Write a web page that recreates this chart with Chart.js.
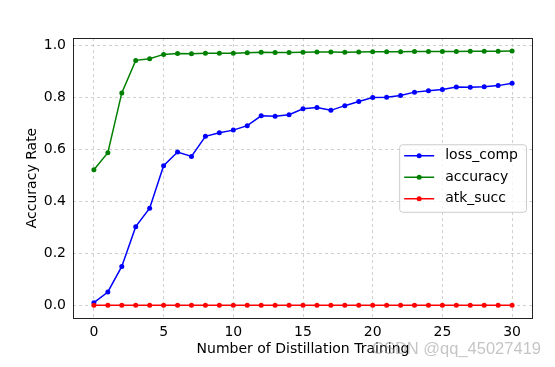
<!DOCTYPE html>
<html>
<head>
<meta charset="utf-8">
<script src="https://cdn.jsdelivr.net/npm/chart.js@4/dist/chart.umd.min.js"></script>
<style>
  html, body { margin: 0; padding: 0; background: #fff; }
  #wrap { width: 555px; height: 367px; }
</style>
</head>
<body>
<div id="wrap"><canvas id="c" width="555" height="367"></canvas></div>
<script>
// data
var epochs = [];
for (var i = 0; i <= 30; i++) epochs.push(i);

var lossComp = [0.010, 0.051, 0.149, 0.302, 0.373, 0.536, 0.589, 0.572, 0.649, 0.663,
                0.673, 0.690, 0.728, 0.726, 0.732, 0.755, 0.760, 0.749, 0.767, 0.783,
                0.798, 0.799, 0.806, 0.819, 0.824, 0.829, 0.839, 0.838, 0.840, 0.844, 0.853];
var accuracy = [0.521, 0.586, 0.816, 0.941, 0.947, 0.964, 0.967, 0.966, 0.968, 0.968,
                0.968, 0.970, 0.972, 0.971, 0.971, 0.972, 0.973, 0.973, 0.972, 0.973,
                0.974, 0.974, 0.974, 0.975, 0.975, 0.975, 0.975, 0.976, 0.976, 0.976, 0.977];
var atkSucc = [];
for (var j = 0; j <= 30; j++) atkSucc.push(0);

var xTicks = [0, 5, 10, 15, 20, 25, 30];
var yTicks = [0, 0.2, 0.4, 0.6, 0.8, 1.0];

var FONT = 'DejaVu Sans';

function pts(ys) {
    return ys.map(function (y, k) { return { x: epochs[k], y: y }; });
}
function series(label, ys, color, order) {
    return {
        label: label,
        data: pts(ys),
        borderColor: color,
        backgroundColor: color,
        borderWidth: 1.5,
        pointRadius: 2.5,
        pointHoverRadius: 2.5,
        pointBorderWidth: 0,
        tension: 0,
        order: order
    };
}

// frame round the plot area + legend + watermark
var extras = {
    id: 'extras',
    afterDraw: function (chart) {
        var ctx = chart.ctx, a = chart.chartArea;
        ctx.save();
        ctx.strokeStyle = '#222';
        ctx.lineWidth = 1;
        ctx.strokeRect(Math.round(a.left) + 0.5, Math.round(a.top) + 0.5,
                       Math.round(a.right - a.left) - 1, Math.round(a.bottom - a.top));

        // legend, center right
        var sets = chart.data.datasets;
        ctx.font = '14px "' + FONT + '"';
        var maxW = 0;
        sets.forEach(function (d) { maxW = Math.max(maxW, ctx.measureText(d.label).width); });
        var rowH = 21.5;
        var bw = 46 + maxW + 8, bh = rowH * sets.length + 3;
        var bx = a.right - 7 - bw, by = (a.top + a.bottom) / 2 - bh / 2;
        ctx.fillStyle = 'rgba(255,255,255,0.8)';
        ctx.strokeStyle = '#cccccc';
        ctx.beginPath();
        ctx.roundRect(bx + 0.5, by + 0.5, bw, bh, 3);
        ctx.fill();
        ctx.stroke();
        ctx.textBaseline = 'middle';
        sets.forEach(function (d, k) {
            var cy = by + 11.5 + k * rowH;
            ctx.strokeStyle = d.borderColor;
            ctx.lineWidth = 1.5;
            ctx.beginPath();
            ctx.moveTo(bx + 5, cy);
            ctx.lineTo(bx + 35, cy);
            ctx.stroke();
            ctx.fillStyle = d.borderColor;
            ctx.beginPath();
            ctx.arc(bx + 20, cy, 2.5, 0, Math.PI * 2);
            ctx.fill();
            ctx.fillStyle = '#000';
            ctx.fillText(d.label, bx + 46, cy);
        });

        // watermark
        ctx.font = '16.5px "Liberation Sans"';
        ctx.fillStyle = 'rgba(150,150,150,0.55)';
        ctx.textAlign = 'right';
        ctx.textBaseline = 'alphabetic';
        ctx.fillText('CSDN @qq_45027419', 541, 354);
        ctx.restore();
    }
};

var tickFont = { family: FONT, size: 14 };

new Chart(document.getElementById('c'), {
    type: 'line',
    data: {
        datasets: [
            series('loss_comp', lossComp, '#0000ff', 2),
            series('accuracy', accuracy, '#008000', 1),
            series('atk_succ', atkSucc, '#ff0000', 0)
        ]
    },
    options: {
        responsive: false,
        animation: false,
        layout: { padding: { left: 0, right: 22, top: 38, bottom: 0 } },
        plugins: { legend: { display: false }, tooltip: { enabled: false } },
        scales: {
            x: {
                type: 'linear',
                min: -1.5,
                max: 31.5,
                afterBuildTicks: function (s) { s.ticks = xTicks.map(function (v) { return { value: v }; }); },
                afterFit: function (s) { s.height = 49; },
                ticks: { font: tickFont, color: '#000', padding: 5.5, maxRotation: 0 },
                grid: { color: '#c4c4c4', lineWidth: 0.8, drawTicks: false },
                border: { display: false, dash: [3, 3] },
                title: { display: true, text: 'Number of Distillation Training', font: tickFont, color: '#000',
                         padding: { top: 0, bottom: 9.5 } }
            },
            y: {
                type: 'linear',
                min: -0.049,
                max: 1.027,
                afterBuildTicks: function (s) { s.ticks = yTicks.map(function (v) { return { value: v }; }); },
                afterFit: function (s) { s.width = 73; },
                ticks: { font: tickFont, color: '#000', padding: 7,
                         callback: function (v) { return v.toFixed(1); } },
                grid: { color: '#c4c4c4', lineWidth: 0.8, drawTicks: false },
                border: { display: false, dash: [3, 3] },
                title: { display: true, text: 'Accuracy Rate', font: tickFont, color: '#000',
                         padding: { top: 23.5, bottom: 0 } }
            }
        }
    },
    plugins: [extras]
});
</script>
</body>
</html>
